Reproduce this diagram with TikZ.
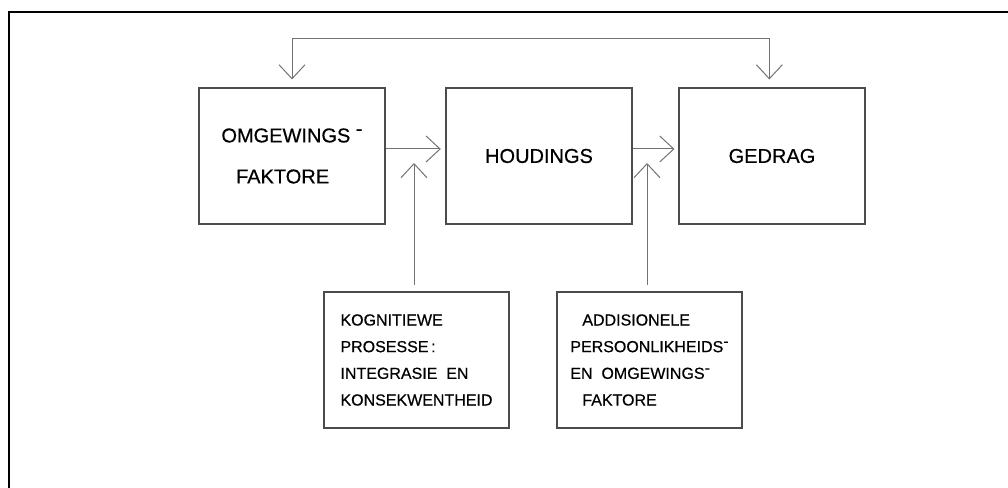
\documentclass[tikz,border=0pt]{standalone}
\usepackage{fontspec}
\setmainfont{Liberation Sans}
\newfontfamily\heavy[FakeBold=0.5]{Liberation Sans}
\usetikzlibrary{arrows.meta}
\newcommand{\updash}{\raisebox{0.35em}{-}}

\begin{document}
\begin{tikzpicture}[x=0.75pt,y=-0.75pt]
\tikzset{box/.style = {draw=black!70,line width=0.8pt,minimum width=139.5pt,minimum height=102pt,inner sep=0pt,align=left}}
\tikzset{big/.style = {box,font=\heavy\fontsize{15}{30.75}\selectfont}}
\tikzset{small/.style = {box,minimum width=138.75pt,font=\heavy\fontsize{12}{20}\selectfont}}
\tikzset{edge/.style = {draw=black!55,line width=0.75pt,-{Straight Barb[length=10.5pt,width=19.5pt]}}}
\useasboundingbox (0,0) rectangle (1008,488);
% frame
\draw[line width=1.3pt] (1008,12) -- (9,12) -- (9,488);
% boxes
\node[big] (omg) at (292,156) {OMGEWINGS \updash\\\hspace{11pt}FAKTORE};
\node[big] (houd) at (539,156) {HOUDINGS};
\node[big] (ged) at (772,156) {GEDRAG};
\node[small] (kog) at (416.5,360) {KOGNITIEWE\\PROSESSE\,:\\INTEGRASIE\ \ EN\\KONSEKWENTHEID};
\node[small] (add) at (649.5,360) {\hspace{9pt}ADDISIONELE\\PERSOONLIKHEIDS\updash\\EN\ \ OMGEWINGS\updash\\\hspace{9pt}FAKTORE};
\coordinate (fb) at (0,39);
\coordinate (kin) at (414,163);
\coordinate (ain) at (647,163);

%arrows
\draw[edge,{Straight Barb[length=10.5pt,width=19.5pt]}-{Straight Barb[length=10.5pt,width=19.5pt]},shorten <=6pt,shorten >=6pt] (omg.north) -- (omg.north |- fb) -| ([xshift=-2pt]ged.north);
\draw[edge,shorten >=3.5pt] ([yshift=5.25pt]omg.east) -- ([yshift=5.25pt]houd.west);
\draw[edge,shorten >=3pt] ([yshift=5.25pt]houd.east) -- ([yshift=5.25pt]ged.west);
\draw[edge,shorten <=5pt] (kin |- kog.north) -- (kin);
\draw[edge,shorten <=5pt] (ain |- add.north) -- (ain);
\end{tikzpicture}
\end{document}
